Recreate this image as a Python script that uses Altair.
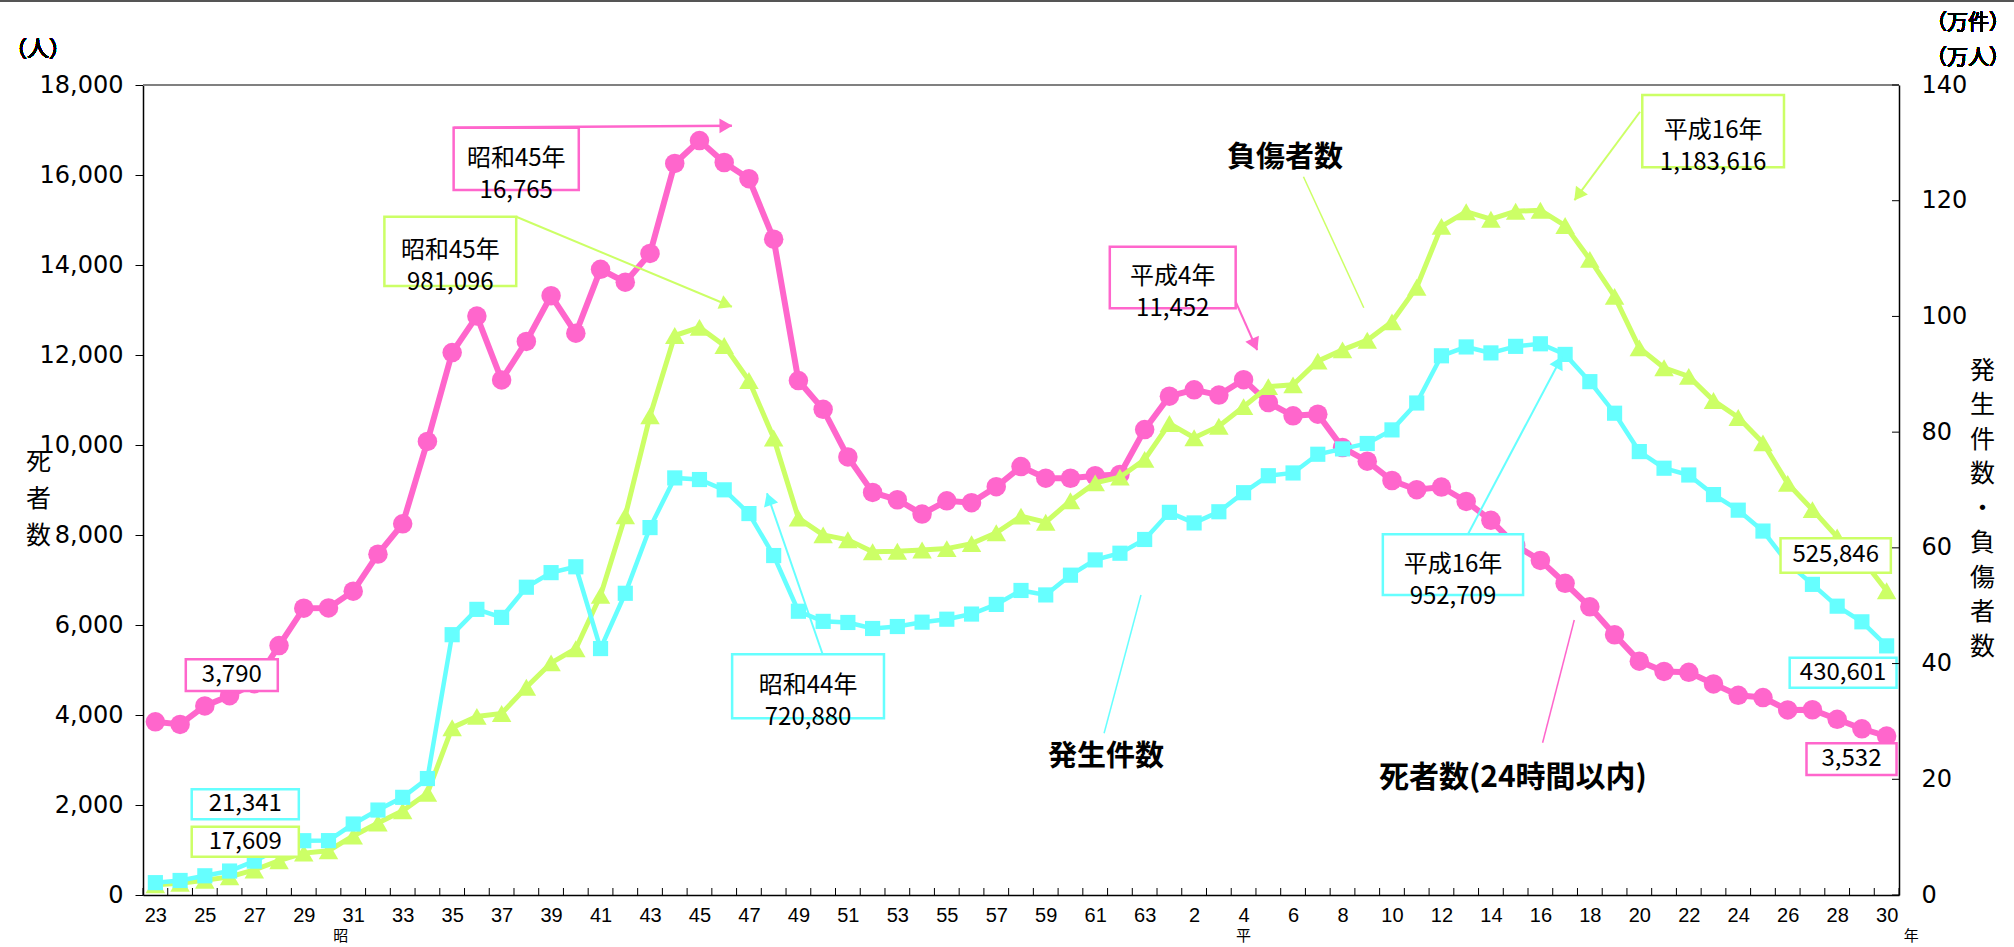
import altair as alt
import pandas as pd
import math

# ---------------- data ----------------
years = list(range(1948, 2019))

deaths = [3848, 3790, 4202, 4429, 4696, 5544, 6374, 6379, 6751, 7575,
          8248, 10079, 12055, 12865, 11445, 12301, 13318, 12484, 13904, 13618,
          14256, 16257, 16765, 16278, 15918, 14574, 11432, 10792, 9734, 8945,
          8783, 8466, 8760, 8719, 9073, 9520, 9262, 9261, 9317, 9347,
          10344, 11086, 11227, 11109, 11452, 10942, 10649, 10684, 9942, 9640,
          9211, 9006, 9066, 8747, 8326, 7768, 7436, 6927, 6403, 5782,
          5197, 4968, 4948, 4691, 4438, 4388, 4113, 4117, 3904, 3694,
          3532]

accidents = [21341, 25113, 33212, 41423, 58487, 80019, 93869, 93981, 122691, 146833,
             168799, 201292, 449917, 493693, 479825, 531966, 557183, 567286, 425944, 521481,
             635056, 720880, 718080, 700290, 659283, 586713, 490452, 472938, 471041, 460649,
             464037, 471573, 476677, 485578, 502261, 526362, 518642, 552788, 579190, 590723,
             614481, 661363, 643097, 662392, 695346, 724675, 729461, 761794, 771085, 780401,
             803882, 850371, 931950, 947253, 936950, 948281, 952709, 934346, 887267, 832704,
             766394, 737637, 725924, 692084, 665157, 629033, 573842, 536899, 499201, 472165,
             430601]

injured = [17609, 20242, 25450, 31274, 43321, 59280, 72390, 76501, 102072, 124530,
           145432, 175951, 289156, 308697, 313813, 359089, 401117, 425666, 517775, 655377,
           828071, 967000, 981096, 949689, 889198, 789948, 651420, 622467, 613957, 593211,
           594116, 596282, 598719, 607346, 626192, 654822, 644321, 681346, 712330, 722179,
           752845, 814832, 790295, 810245, 844003, 878633, 881723, 922677, 942204, 958925,
           990675, 1050399, 1155697, 1181039, 1168029, 1181681, 1183616, 1157113, 1098564, 1034652,
           945703, 911215, 896297, 854613, 825396, 781494, 711374, 666023, 618853, 580850,
           525846]

left_ticks = list(range(0, 18001, 2000))
right_ticks = list(range(0, 141, 20))          # 万件・万人
x_label_years = list(range(1948, 2019, 2))

# annotation boxes (year / left-axis units)
box_x1 = [1960.06, 1957.26, 1986.59, 2008.12, 1997.63, 1971.32, 2013.71, 2014.08, 2014.76, 1949.23, 1949.47, 1949.47]
box_x2 = [1965.12, 1962.59, 1991.68, 2013.85, 2003.30, 1977.46, 2018.17, 2018.40, 2018.40, 1952.95, 1953.80, 1953.80]
box_y1 = [15667, 13533, 13038, 16171, 6667, 3927, 7162, 4607, 2667, 4533, 1682, 851]
box_y2 = [17051, 15073, 14407, 17778, 8016, 5349, 7927, 5273, 3371, 5238, 2349, 1518]
box_col = ["#FF66CC", "#CCFF66", "#FF66CC", "#CCFF66", "#66FFFF", "#66FFFF",
           "#CCFF66", "#66FFFF", "#FF66CC", "#FF66CC", "#66FFFF", "#CCFF66"]
box_txt = ["昭和45年\n16,765", "昭和45年\n981,096", "平成4年\n11,452", "平成16年\n1,183,616",
           "平成16年\n952,709", "昭和44年\n720,880", "525,846", "430,601", "3,532",
           "3,790", "21,341", "17,609"]

# arrows / leader lines
arr_x1 = [1960.06, 1962.59, 1991.68, 2008.03, 2001.06, 1974.98, 1994.42, 1987.85, 2005.37]
arr_y1 = [17051, 15073, 13184, 17405, 8007, 5349, 15962, 6667, 6111]
arr_x2 = [1971.31, 1971.31, 1992.55, 2005.38, 2004.87, 1972.73, 1996.86, 1986.36, 2004.09]
arr_y2 = [17094, 13072, 12111, 15443, 11962, 8927, 13051, 3593, 3384]
arr_col = ["#FF66CC", "#CCFF66", "#FF66CC", "#CCFF66", "#66FFFF", "#66FFFF",
           "#CCFF66", "#66FFFF", "#FF66CC"]
arr_head = [True, True, True, True, True, True, False, False, False]
arr_w = [2.5, 2, 2, 2, 2, 2, 1.5, 1.5, 1.5]

# series name labels
name_txt = ["負傷者数", "発生件数", "死者数(24時間以内)"]
name_x = [1993.67, 1986.44, 2002.89]
name_y = [16371, 3073, 2593]
name_size = [29, 29, 30]

era_txt = ["昭", "平", "年"]
era_x = [1955.5, 1992.0, 2019.0]

# ---------------- layout ----------------
W, H = 1756, 810
PINK, GREEN, CYAN = "#FF66CC", "#CCFF66", "#66FFFF"
JP = "Noto Sans CJK JP"
px_year = W / 71.0
px_val = H / 18000.0

xscale = alt.Scale(domain=[1947.5, 2018.5], nice=False, zero=False)
yscale = alt.Scale(domain=[0, 18000], nice=False, zero=True)

xaxis = alt.Axis(values=x_label_years, ticks=False, grid=False, title=None,
                 labelExpr="datum.value <= 1988 ? datum.value - 1925 : datum.value - 1988",
                 labelFont="Liberation Sans", labelFontSize=20, labelColor="black",
                 labelPadding=10, labelOverlap=False, labelFlush=False,
                 domainColor="black", domainWidth=1.5)
yaxis = alt.Axis(values=left_ticks, format=",d", grid=False, tickSize=8, tickColor="black",
                 tickWidth=1, domainColor="black", domainWidth=1.5,
                 labelFont="DejaVu Sans", labelFontSize=24, labelColor="black", labelPadding=12,
                 title=["死", "者", "数"], titleAngle=0, titleX=-105, titleY=376,
                 titleAlign="center", titleBaseline="middle", titleFont=JP,
                 titleFontSize=25, titleFontWeight="normal", titleLineHeight=37,
                 titleColor="black")


def X(f):
    return alt.X(f, type="quantitative", scale=xscale, axis=xaxis)


def Y(f):
    return alt.Y(f, type="quantitative", scale=yscale, axis=yaxis)


conv = 18000 / 1400000.0
df = pd.DataFrame({
    "year": years,
    "deaths": deaths,
    "acc": [v * conv for v in accidents],
    "inj": [v * conv for v in injured],
})
base = alt.Chart(df)

pink_line = base.mark_line(color=PINK, strokeWidth=6).encode(x=X("year"), y=Y("deaths"))
pink_pts = base.mark_point(shape="circle", filled=True, color=PINK, size=380, opacity=1,
                           strokeWidth=0).encode(x=X("year"), y=Y("deaths"))
green_line = base.mark_line(color=GREEN, strokeWidth=5).encode(x=X("year"), y=Y("inj"))
green_pts = base.mark_point(shape="triangle-up", filled=True, color=GREEN, size=380, opacity=1,
                            strokeWidth=0).encode(x=X("year"), y=Y("inj"))
cyan_line = base.mark_line(color=CYAN, strokeWidth=4.5).encode(x=X("year"), y=Y("acc"))
cyan_pts = base.mark_point(shape="square", filled=True, color=CYAN, size=230, opacity=1,
                           strokeWidth=0).encode(x=X("year"), y=Y("acc"))

# inward x ticks at category boundaries
tick_df = pd.DataFrame({"b": [1947.5 + i for i in range(72)]})
xticks = alt.Chart(tick_df).mark_rule(color="black", strokeWidth=1).encode(
    x=X("b"), y=alt.value(H), y2=alt.value(H - 7))

# boxes
box_df = pd.DataFrame({"x1": box_x1, "x2": box_x2, "y1": box_y1, "y2": box_y2,
                       "c": box_col, "t": box_txt})
box_df["xm"] = (box_df["x1"] + box_df["x2"]) / 2
box_df["ym"] = (box_df["y1"] + box_df["y2"]) / 2
boxes = alt.Chart(box_df).mark_rect(fill="white", strokeWidth=2.5).encode(
    x=X("x1"), x2="x2", y=Y("y1"), y2="y2", stroke=alt.Stroke("c:N", scale=None))
box_text = alt.Chart(box_df).mark_text(font=JP, fontSize=24, lineBreak="\n", lineHeight=32,
                                       baseline="middle", align="center", color="black").encode(
    x=X("xm"), y=Y("ym"), text="t:N")

# arrows
arr_df = pd.DataFrame({"xa": arr_x1, "ya": arr_y1, "xb": arr_x2, "yb": arr_y2,
                       "c": arr_col, "w": arr_w})
arrows = alt.Chart(arr_df).mark_rule().encode(
    x=X("xa"), y=Y("ya"), x2="xb", y2="yb",
    stroke=alt.Stroke("c:N", scale=None), strokeWidth=alt.StrokeWidth("w:Q", scale=None))

head_rows = []
for i in range(len(arr_x1)):
    if not arr_head[i]:
        continue
    dx = (arr_x2[i] - arr_x1[i]) * px_year
    dy = -(arr_y2[i] - arr_y1[i]) * px_val
    L = math.hypot(dx, dy)
    ux, uy = dx / L, dy / L
    ang = math.degrees(math.atan2(dx, -dy)) % 360
    back = 6.0
    head_rows.append({"hx": arr_x2[i] - ux * back / px_year,
                      "hy": arr_y2[i] + uy * back / px_val,
                      "ang": ang, "c": arr_col[i]})
head_df = pd.DataFrame(head_rows)
heads = alt.Chart(head_df).mark_point(shape="triangle-up", filled=True, size=220, opacity=1,
                                      strokeWidth=0).encode(
    x=X("hx"), y=Y("hy"), angle=alt.Angle("ang:Q", scale=None),
    color=alt.Color("c:N", scale=None))

name_df = pd.DataFrame({"x": name_x, "y": name_y, "t": name_txt, "s": name_size})
names = alt.Chart(name_df).mark_text(font=JP, fontWeight="bold", color="black",
                                     baseline="middle", align="center").encode(
    x=X("x"), y=Y("y"), text="t:N", size=alt.Size("s:Q", scale=None))

era_df = pd.DataFrame({"x": era_x, "t": era_txt})
eras = alt.Chart(era_df).mark_text(font=JP, fontSize=15, color="black",
                                   baseline="middle", align="center").encode(
    x=X("x"), y=alt.value(H + 41), text="t:N")

# decorations
top_frame = alt.Chart(tick_df).mark_rule(color="#808080", strokeWidth=2).encode(
    x=alt.value(0), x2=alt.value(W), y=alt.value(0))
page_line = alt.Chart(tick_df).mark_rule(color="#555555", strokeWidth=2).encode(
    x=alt.value(-143), x2=alt.value(2014 - 143), y=alt.value(-84))
unit_left = alt.Chart(tick_df).mark_text(font=JP, fontSize=22, color="black",
                                         baseline="middle").encode(
    x=alt.value(-105), y=alt.value(-36), text=alt.value("（人）"))
unit_r1 = alt.Chart(tick_df).mark_text(font=JP, fontSize=21, color="black",
                                       baseline="middle").encode(
    x=alt.value(1825), y=alt.value(-62), text=alt.value("（万件）"))
unit_r2 = alt.Chart(tick_df).mark_text(font=JP, fontSize=21, color="black",
                                       baseline="middle").encode(
    x=alt.value(1825), y=alt.value(-27), text=alt.value("（万人）"))

main = alt.layer(pink_line, pink_pts, green_line, green_pts, cyan_line, cyan_pts,
                 xticks, boxes, box_text, arrows, heads, names, eras,
                 top_frame, page_line, unit_left, unit_r1, unit_r2)

# right axis (万件・万人) with inward ticks
r_df = pd.DataFrame({"v": [t * 10000 * conv for t in right_ticks]})
raxis = alt.Axis(orient="right", values=[t * 10000 * conv for t in right_ticks],
                 labelExpr="format(round(datum.value * 140 / 18000), 'd')",
                 ticks=False, grid=False, domainColor="black", domainWidth=1.5,
                 labelFont="DejaVu Sans", labelFontSize=24, labelColor="black", labelPadding=22,
                 title=["発", "生", "件", "数", "・", "負", "傷", "者", "数"], titleAngle=0,
                 titleX=83, titleY=285, titleAlign="center", titleBaseline="middle",
                 titleFont=JP, titleFontSize=25, titleFontWeight="normal",
                 titleLineHeight=34.5, titleColor="black")
right = alt.Chart(r_df).mark_rule(color="black", strokeWidth=1).encode(
    y=alt.Y("v:Q", scale=yscale, axis=raxis), x=alt.value(W), x2=alt.value(W - 7))

chart = alt.layer(main, right).resolve_axis(y="independent").properties(
    width=W, height=H,
    autosize=alt.AutoSizeParams(type="none"),
    padding={"left": 143, "top": 85, "right": 2014 - 143 - W, "bottom": 947 - 85 - H},
).configure_view(stroke=None).configure(background="white")

chart.save("out.html", embed_options={"renderer": "svg", "actions": False})
